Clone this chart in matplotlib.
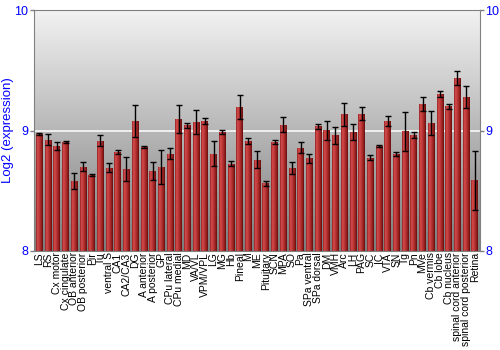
import numpy as np
import matplotlib
matplotlib.use("Agg")
import matplotlib.pyplot as plt
from matplotlib.colors import LinearSegmentedColormap

plt.rcParams['font.family'] = ['Liberation Sans', 'DejaVu Sans']

# brain regions on the x axis
regions = ["LS", "RS", "Cx motor", "Cx cingulate", "OB anterior", "OB posterior",
           "Pir", "Tu", "ventral S", "CA1", "CA2/CA3", "DG", "A anterior",
           "A posterior", "GP", "CPu lateral", "CPu medial", "MD", "VA/VL",
           "VPM/VPL", "LG", "MG", "Hb", "Pineal", "M", "ME", "Pituitary", "SCN",
           "MPA", "SO", "Pa", "SPa ventral", "SPa dorsal", "DM", "VMH", "Arc",
           "LH", "PAG", "SC", "IC", "VTA", "SN", "Tg", "Pn", "MVe", "Cb vermis",
           "Cb lobe", "Cb nucleus", "spinal cord anterior",
           "spinal cord posterior", "Retina"]

# mean log2 expression per region
expression = [8.97, 8.925, 8.87, 8.905, 8.58, 8.70, 8.63, 8.915, 8.693, 8.82,
              8.68, 9.079, 8.864, 8.663, 8.696, 8.809, 9.099, 9.043, 9.074,
              9.079, 8.809, 8.988, 8.726, 9.195, 8.914, 8.759, 8.563, 8.908,
              9.049, 8.69, 8.859, 8.77, 9.035, 9.002, 8.961, 9.135, 8.986,
              9.14, 8.776, 8.872, 9.079, 8.803, 8.994, 8.966, 9.22, 9.063,
              9.303, 9.2, 9.436, 9.281, 8.588]

# error bar half-lengths
errors = [0.006, 0.048, 0.035, 0.008, 0.065, 0.04, 0.005, 0.047, 0.038, 0.017,
          0.097, 0.135, 0.008, 0.075, 0.143, 0.043, 0.117, 0.02, 0.10, 0.022,
          0.102, 0.017, 0.022, 0.102, 0.028, 0.073, 0.022, 0.017, 0.065,
          0.048, 0.046, 0.039, 0.022, 0.079, 0.069, 0.097, 0.066, 0.052,
          0.017, 0.005, 0.043, 0.018, 0.162, 0.024, 0.055, 0.10, 0.028,
          0.02, 0.055, 0.09, 0.246]

x = np.arange(len(regions))

fig = plt.figure(figsize=(5, 3.5), dpi=100)
ax = fig.add_axes([0.068, 0.283, 0.892, 0.688])

xlim = (-0.62, len(regions) - 0.4)

# grey vertical gradient behind the bars (light at top)
bg = np.linspace(0, 1, 256).reshape(-1, 1)
bg_cmap = LinearSegmentedColormap.from_list("bg", ["#f2f2f2", "#7c7c7c"])
ax.imshow(bg, extent=[xlim[0], xlim[1], 8, 10], aspect='auto', cmap=bg_cmap,
          zorder=0)

ax.axhline(9, color='#f4f4f4', lw=1.3, zorder=1)

# bars with a horizontal shading
bars = ax.bar(x, np.array(expression) - 8, bottom=8, width=0.77,
              color='#a82a2a', edgecolor='none', zorder=2)
bar_cmap = LinearSegmentedColormap.from_list(
    "bar", [(0, "#8e1e1e"), (0.2, "#d44c4c"), (0.45, "#c23a3a"),
            (0.85, "#8c1a1a"), (1, "#600c0c")])
grad = np.linspace(0, 1, 64).reshape(1, -1)
for b in bars:
    bx, by = b.get_x(), b.get_y()
    im = ax.imshow(grad, extent=[bx, bx + b.get_width(), by, by + b.get_height()],
                   aspect='auto', cmap=bar_cmap, zorder=2.5)
    im.set_clip_path(b)

ax.errorbar(x, expression, yerr=errors, fmt='none', ecolor='black',
            elinewidth=1, capsize=2, capthick=1, zorder=4)

ax.set_xlim(*xlim)
ax.set_ylim(8, 10)
ax.set_yticks([8, 9, 10])
ax.set_yticklabels(["8", "9", "10"])
ax.tick_params(axis='y', colors='#808080', labelcolor='blue', labelsize=9,
               length=3, width=1, left=True, right=True, labelright=True, pad=1)
ax.set_xticks(x)
ax.set_xticklabels(regions, rotation=90, fontsize=7.5)
ax.tick_params(axis='x', length=0, pad=1)

for s in ax.spines.values():
    s.set_color('#808080')

ax.set_ylabel("Log2 (expression)", color='blue', fontsize=9.5)
ax.yaxis.set_label_coords(-0.045, 0.5)

fig.savefig("out.png", dpi=100)
